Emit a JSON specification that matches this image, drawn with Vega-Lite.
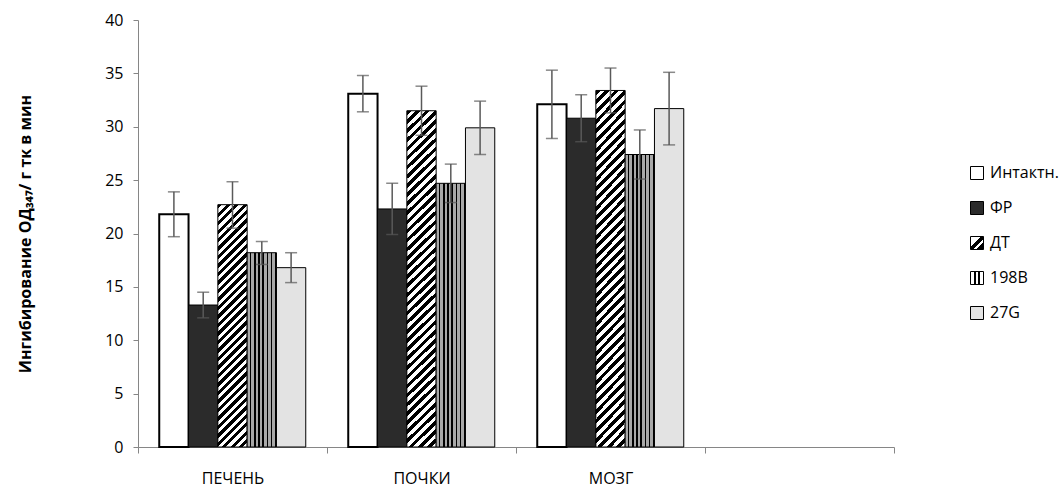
{
  "$schema": "https://vega.github.io/schema/vega-lite/v6.json",
  "width": 756,
  "height": 427,
  "autosize": {"type": "none"},
  "padding": {"left": 138, "top": 20, "right": 170, "bottom": 41},
  "background": "white",
  "config": {
    "view": {"stroke": null},
    "font": "Open Sans",
    "axis": {"domainColor": "#868686", "tickColor": "#868686", "labelColor": "#000", "labelFontSize": 16, "labelFont": "Open Sans", "grid": false}
  },
  "data": {"values": [
    {"organ": "ПЕЧЕНЬ", "group": "Интактн.", "value": 21.8, "lo": 19.7, "hi": 23.9},
    {"organ": "ПЕЧЕНЬ", "group": "ФР", "value": 13.3, "lo": 12.1, "hi": 14.5},
    {"organ": "ПЕЧЕНЬ", "group": "ДТ", "value": 22.7, "lo": 20.5, "hi": 24.85},
    {"organ": "ПЕЧЕНЬ", "group": "198B", "value": 18.2, "lo": 17.1, "hi": 19.25},
    {"organ": "ПЕЧЕНЬ", "group": "27G", "value": 16.8, "lo": 15.4, "hi": 18.2},
    {"organ": "ПОЧКИ", "group": "Интактн.", "value": 33.1, "lo": 31.4, "hi": 34.8},
    {"organ": "ПОЧКИ", "group": "ФР", "value": 22.3, "lo": 19.9, "hi": 24.7},
    {"organ": "ПОЧКИ", "group": "ДТ", "value": 31.5, "lo": 29.2, "hi": 33.8},
    {"organ": "ПОЧКИ", "group": "198B", "value": 24.7, "lo": 22.9, "hi": 26.5},
    {"organ": "ПОЧКИ", "group": "27G", "value": 29.9, "lo": 27.4, "hi": 32.4},
    {"organ": "МОЗГ", "group": "Интактн.", "value": 32.1, "lo": 28.9, "hi": 35.3},
    {"organ": "МОЗГ", "group": "ФР", "value": 30.8, "lo": 28.6, "hi": 33.0},
    {"organ": "МОЗГ", "group": "ДТ", "value": 33.4, "lo": 31.3, "hi": 35.5},
    {"organ": "МОЗГ", "group": "198B", "value": 27.4, "lo": 25.1, "hi": 29.7},
    {"organ": "МОЗГ", "group": "27G", "value": 31.7, "lo": 28.3, "hi": 35.1}
  ]},
  "encoding": {
    "x": {
      "field": "organ", "type": "nominal",
      "scale": {"domain": ["ПЕЧЕНЬ", "ПОЧКИ", "МОЗГ", " "], "paddingInner": 0, "paddingOuter": 0},
      "axis": {"title": null, "labelAngle": 0, "tickBand": "extent", "tickSize": 6, "labelPadding": 17}
    },
    "xOffset": {
      "field": "group", "type": "nominal",
      "scale": {"domain": ["Интактн.", "ФР", "ДТ", "198B", "27G"], "paddingInner": 0, "paddingOuter": 0.725}
    }
  },
  "layer": [
    {
      "mark": {"type": "bar", "stroke": "#000"},
      "encoding": {
        "y": {
          "field": "value", "type": "quantitative",
          "scale": {"domain": [0, 40]},
          "title": "Ингибирование ОД₃₄₇/ г тк в мин",
          "axis": {"values": [0, 5, 10, 15, 20, 25, 30, 35, 40], "tickSize": 5, "labelPadding": 10,
            "titleFontSize": 16, "titleFontWeight": "bold", "titleColor": "#000", "titleFont": "Open Sans",
            "titleX": -113, "titleY": 213.5, "titleAngle": -90, "titleAlign": "center", "titleBaseline": "middle"}
        },
        "strokeWidth": {"condition": {"test": "datum.group === 'Интактн.'", "value": 2}, "value": 1},
        "fill": {
          "field": "group", "type": "nominal",
          "scale": {"domain": ["Интактн.", "ФР", "ДТ", "198B", "27G"], "range": [
            "#ffffff", "#2b2b2b",
            {"expr": "{gradient: 'linear', x1: 0, y1: 0, x2: 1, y2: 1, stops: [{offset: 0, color: '#fff'}, {offset: 0.4, color: '#fff'}, {offset: 0.4, color: '#000'}, {offset: 0.58, color: '#000'}, {offset: 0.58, color: '#fff'}, {offset: 0.7, color: '#fff'}, {offset: 0.7, color: '#000'}, {offset: 1, color: '#000'}]}"},
            {"expr": "{gradient: 'linear', x1: 0, y1: 0, x2: 1, y2: 0, stops: [{offset: 0, color: '#fff'}, {offset: 0.3, color: '#fff'}, {offset: 0.3, color: '#000'}, {offset: 0.42, color: '#000'}, {offset: 0.42, color: '#fff'}, {offset: 0.6, color: '#fff'}, {offset: 0.6, color: '#000'}, {offset: 0.72, color: '#000'}, {offset: 0.72, color: '#fff'}, {offset: 1, color: '#fff'}]}"},
            "#e3e3e3"]},
          "condition": [
            {"test": "datum.group === 'ДТ' && datum.organ === 'ПЕЧЕНЬ'", "value": {"gradient": "linear", "x1": 0, "y1": 0, "x2": 0.1336, "y2": 1.105, "stops": [
              {"offset": 0, "color": "#000"}, {"offset": 0.0156, "color": "#000"}, {"offset": 0.0156, "color": "#fff"}, {"offset": 0.0313, "color": "#fff"},
              {"offset": 0.0313, "color": "#000"}, {"offset": 0.0469, "color": "#000"}, {"offset": 0.0469, "color": "#fff"}, {"offset": 0.0625, "color": "#fff"},
              {"offset": 0.0625, "color": "#000"}, {"offset": 0.0781, "color": "#000"}, {"offset": 0.0781, "color": "#fff"}, {"offset": 0.0938, "color": "#fff"},
              {"offset": 0.0938, "color": "#000"}, {"offset": 0.1094, "color": "#000"}, {"offset": 0.1094, "color": "#fff"}, {"offset": 0.125, "color": "#fff"},
              {"offset": 0.125, "color": "#000"}, {"offset": 0.1406, "color": "#000"}, {"offset": 0.1406, "color": "#fff"}, {"offset": 0.1563, "color": "#fff"},
              {"offset": 0.1563, "color": "#000"}, {"offset": 0.1719, "color": "#000"}, {"offset": 0.1719, "color": "#fff"}, {"offset": 0.1875, "color": "#fff"},
              {"offset": 0.1875, "color": "#000"}, {"offset": 0.2031, "color": "#000"}, {"offset": 0.2031, "color": "#fff"}, {"offset": 0.2188, "color": "#fff"},
              {"offset": 0.2188, "color": "#000"}, {"offset": 0.2344, "color": "#000"}, {"offset": 0.2344, "color": "#fff"}, {"offset": 0.25, "color": "#fff"},
              {"offset": 0.25, "color": "#000"}, {"offset": 0.2656, "color": "#000"}, {"offset": 0.2656, "color": "#fff"}, {"offset": 0.2813, "color": "#fff"},
              {"offset": 0.2813, "color": "#000"}, {"offset": 0.2969, "color": "#000"}, {"offset": 0.2969, "color": "#fff"}, {"offset": 0.3125, "color": "#fff"},
              {"offset": 0.3125, "color": "#000"}, {"offset": 0.3281, "color": "#000"}, {"offset": 0.3281, "color": "#fff"}, {"offset": 0.3438, "color": "#fff"},
              {"offset": 0.3438, "color": "#000"}, {"offset": 0.3594, "color": "#000"}, {"offset": 0.3594, "color": "#fff"}, {"offset": 0.375, "color": "#fff"},
              {"offset": 0.375, "color": "#000"}, {"offset": 0.3906, "color": "#000"}, {"offset": 0.3906, "color": "#fff"}, {"offset": 0.4063, "color": "#fff"},
              {"offset": 0.4063, "color": "#000"}, {"offset": 0.4219, "color": "#000"}, {"offset": 0.4219, "color": "#fff"}, {"offset": 0.4375, "color": "#fff"},
              {"offset": 0.4375, "color": "#000"}, {"offset": 0.4531, "color": "#000"}, {"offset": 0.4531, "color": "#fff"}, {"offset": 0.4688, "color": "#fff"},
              {"offset": 0.4688, "color": "#000"}, {"offset": 0.4844, "color": "#000"}, {"offset": 0.4844, "color": "#fff"}, {"offset": 0.5, "color": "#fff"},
              {"offset": 0.5, "color": "#000"}, {"offset": 0.5156, "color": "#000"}, {"offset": 0.5156, "color": "#fff"}, {"offset": 0.5313, "color": "#fff"},
              {"offset": 0.5313, "color": "#000"}, {"offset": 0.5469, "color": "#000"}, {"offset": 0.5469, "color": "#fff"}, {"offset": 0.5625, "color": "#fff"},
              {"offset": 0.5625, "color": "#000"}, {"offset": 0.5781, "color": "#000"}, {"offset": 0.5781, "color": "#fff"}, {"offset": 0.5938, "color": "#fff"},
              {"offset": 0.5938, "color": "#000"}, {"offset": 0.6094, "color": "#000"}, {"offset": 0.6094, "color": "#fff"}, {"offset": 0.625, "color": "#fff"},
              {"offset": 0.625, "color": "#000"}, {"offset": 0.6406, "color": "#000"}, {"offset": 0.6406, "color": "#fff"}, {"offset": 0.6563, "color": "#fff"},
              {"offset": 0.6563, "color": "#000"}, {"offset": 0.6719, "color": "#000"}, {"offset": 0.6719, "color": "#fff"}, {"offset": 0.6875, "color": "#fff"},
              {"offset": 0.6875, "color": "#000"}, {"offset": 0.7031, "color": "#000"}, {"offset": 0.7031, "color": "#fff"}, {"offset": 0.7188, "color": "#fff"},
              {"offset": 0.7188, "color": "#000"}, {"offset": 0.7344, "color": "#000"}, {"offset": 0.7344, "color": "#fff"}, {"offset": 0.75, "color": "#fff"},
              {"offset": 0.75, "color": "#000"}, {"offset": 0.7656, "color": "#000"}, {"offset": 0.7656, "color": "#fff"}, {"offset": 0.7813, "color": "#fff"},
              {"offset": 0.7813, "color": "#000"}, {"offset": 0.7969, "color": "#000"}, {"offset": 0.7969, "color": "#fff"}, {"offset": 0.8125, "color": "#fff"},
              {"offset": 0.8125, "color": "#000"}, {"offset": 0.8281, "color": "#000"}, {"offset": 0.8281, "color": "#fff"}, {"offset": 0.8438, "color": "#fff"},
              {"offset": 0.8438, "color": "#000"}, {"offset": 0.8594, "color": "#000"}, {"offset": 0.8594, "color": "#fff"}, {"offset": 0.875, "color": "#fff"},
              {"offset": 0.875, "color": "#000"}, {"offset": 0.8906, "color": "#000"}, {"offset": 0.8906, "color": "#fff"}, {"offset": 0.9063, "color": "#fff"},
              {"offset": 0.9063, "color": "#000"}, {"offset": 0.9219, "color": "#000"}, {"offset": 0.9219, "color": "#fff"}, {"offset": 0.9375, "color": "#fff"},
              {"offset": 0.9375, "color": "#000"}, {"offset": 0.9531, "color": "#000"}, {"offset": 0.9531, "color": "#fff"}, {"offset": 0.9688, "color": "#fff"},
              {"offset": 0.9688, "color": "#000"}, {"offset": 0.9844, "color": "#000"}, {"offset": 0.9844, "color": "#fff"}, {"offset": 1, "color": "#fff"}
            ]}},
            {"test": "datum.group === 'ДТ'", "value": {"gradient": "linear", "x1": 0, "y1": 0, "x2": 0.0913, "y2": 1.077, "stops": [
              {"offset": 0, "color": "#000"}, {"offset": 0.0125, "color": "#000"}, {"offset": 0.0125, "color": "#fff"}, {"offset": 0.025, "color": "#fff"},
              {"offset": 0.025, "color": "#000"}, {"offset": 0.0375, "color": "#000"}, {"offset": 0.0375, "color": "#fff"}, {"offset": 0.05, "color": "#fff"},
              {"offset": 0.05, "color": "#000"}, {"offset": 0.0625, "color": "#000"}, {"offset": 0.0625, "color": "#fff"}, {"offset": 0.075, "color": "#fff"},
              {"offset": 0.075, "color": "#000"}, {"offset": 0.0875, "color": "#000"}, {"offset": 0.0875, "color": "#fff"}, {"offset": 0.1, "color": "#fff"},
              {"offset": 0.1, "color": "#000"}, {"offset": 0.1125, "color": "#000"}, {"offset": 0.1125, "color": "#fff"}, {"offset": 0.125, "color": "#fff"},
              {"offset": 0.125, "color": "#000"}, {"offset": 0.1375, "color": "#000"}, {"offset": 0.1375, "color": "#fff"}, {"offset": 0.15, "color": "#fff"},
              {"offset": 0.15, "color": "#000"}, {"offset": 0.1625, "color": "#000"}, {"offset": 0.1625, "color": "#fff"}, {"offset": 0.175, "color": "#fff"},
              {"offset": 0.175, "color": "#000"}, {"offset": 0.1875, "color": "#000"}, {"offset": 0.1875, "color": "#fff"}, {"offset": 0.2, "color": "#fff"},
              {"offset": 0.2, "color": "#000"}, {"offset": 0.2125, "color": "#000"}, {"offset": 0.2125, "color": "#fff"}, {"offset": 0.225, "color": "#fff"},
              {"offset": 0.225, "color": "#000"}, {"offset": 0.2375, "color": "#000"}, {"offset": 0.2375, "color": "#fff"}, {"offset": 0.25, "color": "#fff"},
              {"offset": 0.25, "color": "#000"}, {"offset": 0.2625, "color": "#000"}, {"offset": 0.2625, "color": "#fff"}, {"offset": 0.275, "color": "#fff"},
              {"offset": 0.275, "color": "#000"}, {"offset": 0.2875, "color": "#000"}, {"offset": 0.2875, "color": "#fff"}, {"offset": 0.3, "color": "#fff"},
              {"offset": 0.3, "color": "#000"}, {"offset": 0.3125, "color": "#000"}, {"offset": 0.3125, "color": "#fff"}, {"offset": 0.325, "color": "#fff"},
              {"offset": 0.325, "color": "#000"}, {"offset": 0.3375, "color": "#000"}, {"offset": 0.3375, "color": "#fff"}, {"offset": 0.35, "color": "#fff"},
              {"offset": 0.35, "color": "#000"}, {"offset": 0.3625, "color": "#000"}, {"offset": 0.3625, "color": "#fff"}, {"offset": 0.375, "color": "#fff"},
              {"offset": 0.375, "color": "#000"}, {"offset": 0.3875, "color": "#000"}, {"offset": 0.3875, "color": "#fff"}, {"offset": 0.4, "color": "#fff"},
              {"offset": 0.4, "color": "#000"}, {"offset": 0.4125, "color": "#000"}, {"offset": 0.4125, "color": "#fff"}, {"offset": 0.425, "color": "#fff"},
              {"offset": 0.425, "color": "#000"}, {"offset": 0.4375, "color": "#000"}, {"offset": 0.4375, "color": "#fff"}, {"offset": 0.45, "color": "#fff"},
              {"offset": 0.45, "color": "#000"}, {"offset": 0.4625, "color": "#000"}, {"offset": 0.4625, "color": "#fff"}, {"offset": 0.475, "color": "#fff"},
              {"offset": 0.475, "color": "#000"}, {"offset": 0.4875, "color": "#000"}, {"offset": 0.4875, "color": "#fff"}, {"offset": 0.5, "color": "#fff"},
              {"offset": 0.5, "color": "#000"}, {"offset": 0.5125, "color": "#000"}, {"offset": 0.5125, "color": "#fff"}, {"offset": 0.525, "color": "#fff"},
              {"offset": 0.525, "color": "#000"}, {"offset": 0.5375, "color": "#000"}, {"offset": 0.5375, "color": "#fff"}, {"offset": 0.55, "color": "#fff"},
              {"offset": 0.55, "color": "#000"}, {"offset": 0.5625, "color": "#000"}, {"offset": 0.5625, "color": "#fff"}, {"offset": 0.575, "color": "#fff"},
              {"offset": 0.575, "color": "#000"}, {"offset": 0.5875, "color": "#000"}, {"offset": 0.5875, "color": "#fff"}, {"offset": 0.6, "color": "#fff"},
              {"offset": 0.6, "color": "#000"}, {"offset": 0.6125, "color": "#000"}, {"offset": 0.6125, "color": "#fff"}, {"offset": 0.625, "color": "#fff"},
              {"offset": 0.625, "color": "#000"}, {"offset": 0.6375, "color": "#000"}, {"offset": 0.6375, "color": "#fff"}, {"offset": 0.65, "color": "#fff"},
              {"offset": 0.65, "color": "#000"}, {"offset": 0.6625, "color": "#000"}, {"offset": 0.6625, "color": "#fff"}, {"offset": 0.675, "color": "#fff"},
              {"offset": 0.675, "color": "#000"}, {"offset": 0.6875, "color": "#000"}, {"offset": 0.6875, "color": "#fff"}, {"offset": 0.7, "color": "#fff"},
              {"offset": 0.7, "color": "#000"}, {"offset": 0.7125, "color": "#000"}, {"offset": 0.7125, "color": "#fff"}, {"offset": 0.725, "color": "#fff"},
              {"offset": 0.725, "color": "#000"}, {"offset": 0.7375, "color": "#000"}, {"offset": 0.7375, "color": "#fff"}, {"offset": 0.75, "color": "#fff"},
              {"offset": 0.75, "color": "#000"}, {"offset": 0.7625, "color": "#000"}, {"offset": 0.7625, "color": "#fff"}, {"offset": 0.775, "color": "#fff"},
              {"offset": 0.775, "color": "#000"}, {"offset": 0.7875, "color": "#000"}, {"offset": 0.7875, "color": "#fff"}, {"offset": 0.8, "color": "#fff"},
              {"offset": 0.8, "color": "#000"}, {"offset": 0.8125, "color": "#000"}, {"offset": 0.8125, "color": "#fff"}, {"offset": 0.825, "color": "#fff"},
              {"offset": 0.825, "color": "#000"}, {"offset": 0.8375, "color": "#000"}, {"offset": 0.8375, "color": "#fff"}, {"offset": 0.85, "color": "#fff"},
              {"offset": 0.85, "color": "#000"}, {"offset": 0.8625, "color": "#000"}, {"offset": 0.8625, "color": "#fff"}, {"offset": 0.875, "color": "#fff"},
              {"offset": 0.875, "color": "#000"}, {"offset": 0.8875, "color": "#000"}, {"offset": 0.8875, "color": "#fff"}, {"offset": 0.9, "color": "#fff"},
              {"offset": 0.9, "color": "#000"}, {"offset": 0.9125, "color": "#000"}, {"offset": 0.9125, "color": "#fff"}, {"offset": 0.925, "color": "#fff"},
              {"offset": 0.925, "color": "#000"}, {"offset": 0.9375, "color": "#000"}, {"offset": 0.9375, "color": "#fff"}, {"offset": 0.95, "color": "#fff"},
              {"offset": 0.95, "color": "#000"}, {"offset": 0.9625, "color": "#000"}, {"offset": 0.9625, "color": "#fff"}, {"offset": 0.975, "color": "#fff"},
              {"offset": 0.975, "color": "#000"}, {"offset": 0.9875, "color": "#000"}, {"offset": 0.9875, "color": "#fff"}, {"offset": 1, "color": "#fff"}
            ]}},
            {"test": "datum.group === '198B'", "value": {"gradient": "linear", "x1": 0, "y1": 0, "x2": 1, "y2": 0, "stops": [
              {"offset": 0, "color": "#a8a8a8"}, {"offset": 0.093, "color": "#a8a8a8"}, {"offset": 0.093, "color": "#000"}, {"offset": 0.1429, "color": "#000"},
              {"offset": 0.1429, "color": "#a8a8a8"}, {"offset": 0.2359, "color": "#a8a8a8"}, {"offset": 0.2359, "color": "#000"}, {"offset": 0.2857, "color": "#000"},
              {"offset": 0.2857, "color": "#a8a8a8"}, {"offset": 0.3787, "color": "#a8a8a8"}, {"offset": 0.3787, "color": "#000"}, {"offset": 0.4286, "color": "#000"},
              {"offset": 0.4286, "color": "#a8a8a8"}, {"offset": 0.5216, "color": "#a8a8a8"}, {"offset": 0.5216, "color": "#000"}, {"offset": 0.5714, "color": "#000"},
              {"offset": 0.5714, "color": "#a8a8a8"}, {"offset": 0.6644, "color": "#a8a8a8"}, {"offset": 0.6644, "color": "#000"}, {"offset": 0.7143, "color": "#000"},
              {"offset": 0.7143, "color": "#a8a8a8"}, {"offset": 0.8073, "color": "#a8a8a8"}, {"offset": 0.8073, "color": "#000"}, {"offset": 0.8571, "color": "#000"},
              {"offset": 0.8571, "color": "#a8a8a8"}, {"offset": 0.9501, "color": "#a8a8a8"}, {"offset": 0.9501, "color": "#000"}, {"offset": 1, "color": "#000"}
            ]}}
          ],
          "legend": {
            "orient": "none", "legendX": 831, "legendY": 145, "title": null,
            "symbolType": "square", "symbolSize": 169, "labelFontSize": 16, "labelFont": "Open Sans", "labelColor": "#000",
            "rowPadding": 17, "labelOffset": 5, "symbolStrokeColor": "#000", "symbolStrokeWidth": 1, "padding": 0
          }
        }
      }
    },
    {
      "mark": {"type": "rule", "color": "#595959", "strokeWidth": 1.5},
      "encoding": {
        "y": {"field": "lo", "type": "quantitative", "title": "Ингибирование ОД₃₄₇/ г тк в мин"},
        "y2": {"field": "hi"}
      }
    },
    {
      "mark": {"type": "tick", "color": "#595959", "thickness": 1.5, "size": 12},
      "encoding": {"y": {"field": "hi", "type": "quantitative", "title": "Ингибирование ОД₃₄₇/ г тк в мин"}}
    },
    {
      "mark": {"type": "tick", "color": "#595959", "thickness": 1.5, "size": 12},
      "encoding": {"y": {"field": "lo", "type": "quantitative", "title": "Ингибирование ОД₃₄₇/ г тк в мин"}}
    }
  ]
}
